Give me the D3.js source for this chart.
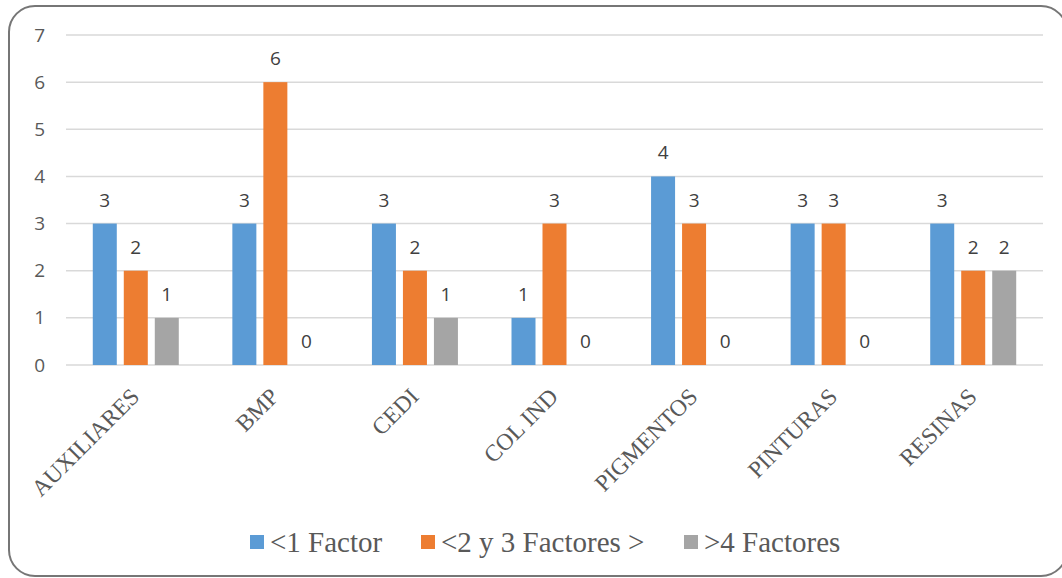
<!DOCTYPE html>
<html>
<head>
<meta charset="utf-8">
<script src="https://cdn.jsdelivr.net/npm/d3@7"></script>
<style>
  html, body { margin: 0; padding: 0; background: #fff; }
  svg { display: block; }
</style>
</head>
<body>
<svg id="chart" width="1062" height="578"></svg>
<script>
// Categories and series
const categories = ["AUXILIARES", "BMP", "CEDI", "COL IND", "PIGMENTOS", "PINTURAS", "RESINAS"];
const seriesNames = ["<1 Factor", "<2 y 3 Factores >", ">4 Factores"];
const seriesColors = ["#5B9BD5", "#ED7D31", "#A5A5A5"];
const factor1 = [3, 3, 3, 1, 4, 3, 3];
const factor23 = [2, 6, 2, 3, 3, 3, 2];
const factor4 = [1, 0, 1, 0, 0, 0, 2];
const yTicks = [0, 1, 2, 3, 4, 5, 6, 7];

const series = [factor1, factor23, factor4];

const svg = d3.select("#chart");

// Outer rounded frame
svg.append("rect")
  .attr("x", 9).attr("y", 6)
  .attr("width", 1058).attr("height", 570)
  .attr("rx", 26).attr("ry", 26)
  .attr("fill", "#fff")
  .attr("stroke", "#767676")
  .attr("stroke-width", 2);

const plot = { left: 66, right: 1043, top: 35, bottom: 365 };

const x = d3.scaleBand()
  .domain(categories)
  .range([plot.left, plot.right])
  .paddingInner(0).paddingOuter(0);

const y = d3.scaleLinear()
  .domain([0, 7])
  .range([plot.bottom, plot.top]);

const barW = 24, barStep = 31;
const numFont = "'Open Sans', 'Liberation Sans', sans-serif";
const serifFont = "'Liberation Serif', 'Times New Roman', serif";

// Gridlines
svg.append("g")
  .selectAll("line")
  .data(yTicks)
  .join("line")
  .attr("x1", plot.left).attr("x2", plot.right)
  .attr("y1", d => y(d)).attr("y2", d => y(d))
  .attr("stroke", "#d9d9d9")
  .attr("stroke-width", 1.5);

// Y axis labels
const yAxis = d3.axisLeft(y).tickValues(yTicks).tickSize(0).tickPadding(0).tickFormat(d3.format("d"));
const yg = svg.append("g").attr("transform", `translate(${plot.left - 21},0)`).call(yAxis);
yg.select(".domain").remove();
yg.selectAll("text")
  .attr("font-family", numFont)
  .attr("font-size", 19)
  .attr("fill", "#595959");

// Bars and value labels
const groups = svg.append("g");
series.forEach((vals, si) => {
  const offset = (si - 1) * barStep;
  const rows = vals.map((v, i) => ({ v, c: categories[i] }));
  groups.append("g")
    .selectAll("rect")
    .data(rows)
    .join("rect")
    .attr("x", d => x(d.c) + x.bandwidth() / 2 + offset - barW / 2)
    .attr("y", d => y(d.v))
    .attr("width", barW)
    .attr("height", d => y(0) - y(d.v))
    .attr("fill", seriesColors[si]);

  groups.append("g")
    .selectAll("text")
    .data(rows)
    .join("text")
    .attr("x", d => x(d.c) + x.bandwidth() / 2 + offset)
    .attr("y", d => y(d.v) - 17)
    .attr("text-anchor", "middle")
    .attr("font-family", numFont)
    .attr("font-size", 19)
    .attr("fill", "#404040")
    .text(d => d.v);
});

// Category labels, rotated
svg.append("g")
  .selectAll("text")
  .data(categories)
  .join("text")
  .attr("transform", d => `translate(${x(d) + x.bandwidth() / 2 + 5},${plot.bottom + 33}) rotate(-45)`)
  .attr("text-anchor", "end")
  .attr("font-family", serifFont)
  .attr("font-size", 23.5)
  .attr("fill", "#595959")
  .text(d => d);

// Legend
const legendX = [250, 421, 684];
const lg = svg.append("g");
seriesNames.forEach((name, i) => {
  lg.append("rect")
    .attr("x", legendX[i]).attr("y", 535)
    .attr("width", 14).attr("height", 14)
    .attr("fill", seriesColors[i]);
  lg.append("text")
    .attr("x", legendX[i] + 20).attr("y", 552)
    .attr("font-family", serifFont)
    .attr("font-size", 29)
    .attr("fill", "#595959")
    .text(name);
});
</script>
</body>
</html>
